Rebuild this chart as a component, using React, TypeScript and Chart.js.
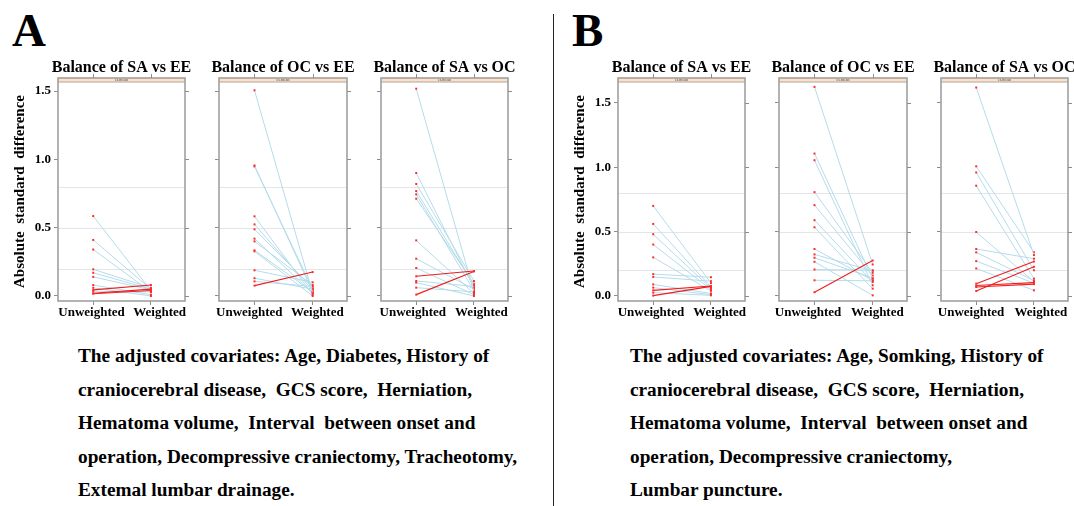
import React, { useEffect, useRef } from "react";
import { Chart, registerables } from "chart.js";

Chart.register(...registerables);

const SERIF = "'Liberation Serif', 'Times New Roman', serif";

// Axis content shared by every panel
const categories = ["Unweighted", "Weighted"];
const yTickValues = [0, 0.5, 1, 1.5];
const refLines = [0.2, 0.5, 0.8];
const yAxisTitle = "Absolute  standard  difference";
const stripLabel = "es.mean";

// Group A: absolute standardized differences per covariate (before / after weighting)
const aSaEeUnweighted = [0.585, 0.41, 0.34, 0.195, 0.17, 0.14, 0.08, 0.06, 0.045, 0.035, 0.02, 0.017];
const aSaEeWeighted = [0.04, 0.05, 0.03, 0.06, 0.05, 0.045, 0.01, 0.0, 0.08, 0.03, 0.05, 0.04];

const aOcEeUnweighted = [1.505, 0.955, 0.948, 0.583, 0.524, 0.488, 0.42, 0.4, 0.334, 0.327, 0.188, 0.13, 0.107, 0.076];
const aOcEeWeighted = [0.02, 0.03, 0.05, 0.01, 0.04, 0.06, 0.02, 0.08, 0.03, 0.0, 0.1, 0.05, 0.07, 0.175];

const aSaOcUnweighted = [1.517, 0.9, 0.82, 0.768, 0.744, 0.712, 0.407, 0.273, 0.205, 0.144, 0.11, 0.098, 0.061, 0.01];
const aSaOcWeighted = [0.03, 0.06, 0.11, 0.08, 0.04, 0.09, 0.02, 0.05, 0.01, 0.183, 0.07, 0.0, 0.03, 0.18];

// Group B
const bSaEeUnweighted = [0.7, 0.56, 0.48, 0.4, 0.3, 0.17, 0.148, 0.09, 0.065, 0.044, 0.026, 0.003];
const bSaEeWeighted = [0.1, 0.07, 0.06, 0.05, 0.04, 0.146, 0.115, 0.02, 0.01, 0.078, 0.005, 0.075];

const bOcEeUnweighted = [1.625, 1.107, 1.055, 0.807, 0.706, 0.589, 0.534, 0.365, 0.323, 0.297, 0.266, 0.206, 0.122, 0.029];
const bOcEeWeighted = [0.245, 0.135, 0.083, 0.18, 0.159, 0.109, 0.057, 0.122, 0.195, 0.14, 0.005, 0.2, 0.118, 0.276];

const bSaOcUnweighted = [1.62, 1.008, 0.96, 0.857, 0.497, 0.365, 0.339, 0.271, 0.214, 0.096, 0.081, 0.07, 0.039];
const bSaOcWeighted = [0.318, 0.339, 0.2, 0.135, 0.11, 0.29, 0.12, 0.1, 0.044, 0.268, 0.104, 0.092, 0.227];

const captionA = [
  "The adjusted covariates: Age, Diabetes, History of",
  "craniocerebral disease,  GCS score,  Herniation,",
  "Hematoma volume,  Interval  between onset and",
  "operation, Decompressive craniectomy, Tracheotomy,",
  "Extemal lumbar drainage.",
];
const captionB = [
  "The adjusted covariates: Age, Somking, History of",
  "craniocerebral disease,  GCS score,  Herniation,",
  "Hematoma volume,  Interval  between onset and",
  "operation, Decompressive craniectomy,",
  "Lumbar puncture.",
];

type PanelSpec = {
  title: string;
  unweighted: number[];
  weighted: number[];
  left: number;
  right: number;
  yMin: number;
  yMax: number;
  first: boolean;
  labelAt: number[];
};

const yRangeA = { yMin: -0.0366, yMax: 1.566 };
const yRangeB = { yMin: -0.0389, yMax: 1.663 };

const panels: PanelSpec[] = [
  { title: "Balance of SA vs EE", unweighted: aSaEeUnweighted, weighted: aSaEeWeighted, left: 58, right: 185, ...yRangeA, first: true, labelAt: [0.97, 2.15] },
  { title: "Balance of OC vs EE", unweighted: aOcEeUnweighted, weighted: aOcEeWeighted, left: 219, right: 347, ...yRangeA, first: false, labelAt: [0.91, 2.08] },
  { title: "Balance of SA vs OC", unweighted: aSaOcUnweighted, weighted: aSaOcWeighted, left: 381, right: 508, ...yRangeA, first: false, labelAt: [0.94, 2.13] },
  { title: "Balance of SA vs EE", unweighted: bSaEeUnweighted, weighted: bSaEeWeighted, left: 618, right: 745, ...yRangeB, first: true, labelAt: [0.96, 2.15] },
  { title: "Balance of OC vs EE", unweighted: bOcEeUnweighted, weighted: bOcEeWeighted, left: 779, right: 907, ...yRangeB, first: false, labelAt: [0.89, 2.08] },
  { title: "Balance of SA vs OC", unweighted: bSaOcUnweighted, weighted: bSaOcWeighted, left: 941, right: 1068, ...yRangeB, first: false, labelAt: [0.91, 2.12] },
];

const PANEL_TOP = 50;
const PANEL_H = 280;
const STRIP_H = 4;
const PAD_SIDE = 20;

// Reference lines under the data; title, frame, strip and outer ticks on top
const panelDecor = {
  id: "panelDecor",
  beforeDatasetsDraw(chart: any) {
    const { ctx, chartArea: a, scales } = chart;
    ctx.save();
    ctx.strokeStyle = "#e2e6e8";
    ctx.lineWidth = 1;
    refLines.forEach((v) => {
      const py = Math.round(scales.y.getPixelForValue(v)) + 0.5;
      ctx.beginPath();
      ctx.moveTo(a.left, py);
      ctx.lineTo(a.right, py);
      ctx.stroke();
    });
    ctx.restore();
  },
  afterDraw(chart: any, _args: any, opts: any) {
    const { ctx, chartArea: a, scales } = chart;
    const top = a.top - STRIP_H;
    ctx.save();
    // panel title
    ctx.fillStyle = "#000";
    ctx.font = `bold 16px ${SERIF}`;
    ctx.textAlign = "center";
    ctx.textBaseline = "middle";
    ctx.fillText(opts.title, (a.left + a.right) / 2, top - 10.4);
    // strip
    ctx.fillStyle = "#ffe0c2";
    ctx.fillRect(a.left, top, a.right - a.left, STRIP_H);
    ctx.strokeStyle = "#a8a8a8";
    ctx.lineWidth = 1;
    ctx.beginPath();
    ctx.moveTo(a.left, a.top);
    ctx.lineTo(a.right, a.top);
    ctx.stroke();
    ctx.fillStyle = "#444";
    ctx.font = `4px ${SERIF}`;
    ctx.fillText(stripLabel, (a.left + a.right) / 2, top + STRIP_H / 2);
    // frame
    ctx.strokeStyle = "#a0a0a0";
    ctx.lineWidth = 1.6;
    ctx.strokeRect(a.left, top, a.right - a.left, a.bottom - top);
    // top and right ticks
    ctx.strokeStyle = "#8c8c8c";
    ctx.lineWidth = 1;
    [1, 2].forEach((v) => {
      const px = Math.round(scales.x.getPixelForValue(v)) + 0.5;
      ctx.beginPath();
      ctx.moveTo(px, top - 4);
      ctx.lineTo(px, top);
      ctx.stroke();
    });
    yTickValues.forEach((v) => {
      const py = Math.round(scales.y.getPixelForValue(v)) + 0.5;
      ctx.beginPath();
      ctx.moveTo(a.right, py);
      ctx.lineTo(a.right + 4, py);
      ctx.stroke();
    });
    ctx.restore();
  },
};

function BalancePanel({ spec }: { spec: PanelSpec }) {
  const ref = useRef<HTMLCanvasElement | null>(null);
  const yW = spec.first ? 50 : 6;
  const padLeft = spec.first ? 0 : 14;
  const canvasLeft = spec.left - yW - padLeft;
  const width = spec.right - spec.left + yW + padLeft + PAD_SIDE;

  useEffect(() => {
    if (!ref.current) return;
    const pairs = spec.unweighted.map((u, i) => ({ u, w: spec.weighted[i] }));
    const up = pairs.filter((p) => p.w > p.u);
    const down = pairs.filter((p) => p.w <= p.u);
    const mk = (p: { u: number; w: number }, color: string, lw: number) => ({
      data: [
        { x: 1, y: p.u },
        { x: 2, y: p.w },
      ],
      borderColor: color,
      borderWidth: lw,
      pointRadius: 1.4,
      pointStyle: "rect",
      pointBackgroundColor: "#ff2a2a",
      pointBorderColor: "#ff2a2a",
      pointBorderWidth: 0,
      showLine: true,
    });
    // first datasets are painted last, so the red (increasing) lines stay on top
    const datasets = [...up.map((p) => mk(p, "#f01e1e", 1.1)), ...down.map((p) => mk(p, "#b4dcea", 1))];

    const chart = new Chart(ref.current, {
      type: "line",
      data: { datasets } as any,
      options: {
        animation: false,
        responsive: false,
        maintainAspectRatio: false,
        layout: { padding: { top: 32, left: padLeft, right: PAD_SIDE, bottom: 10 } },
        plugins: {
          legend: { display: false },
          tooltip: { enabled: false },
          title: { display: false },
          panelDecor: { title: spec.title },
        },
        scales: {
          x: {
            type: "linear",
            min: 0.39,
            max: 2.59,
            weight: 0,
            afterBuildTicks: (s: any) => {
              s.ticks = [{ value: 1 }, { value: 2 }];
            },
            afterFit: (s: any) => {
              s.height = 4;
            },
            ticks: { display: false },
            grid: { display: true, drawOnChartArea: false, drawTicks: true, tickLength: 4, color: "#8c8c8c" },
            border: { display: false },
          },
          xLabels: {
            type: "linear",
            position: "bottom",
            axis: "x",
            min: 0.39,
            max: 2.59,
            weight: 1,
            afterBuildTicks: (s: any) => {
              s.ticks = spec.labelAt.map((v) => ({ value: v }));
            },
            afterFit: (s: any) => {
              s.height = 15;
            },
            ticks: {
              callback: (_v: any, i: number) => categories[i],
              color: "#000",
              font: { family: SERIF, size: 13, weight: "bold" },
              padding: 0,
              maxRotation: 0,
              autoSkip: false,
            },
            grid: { display: false, drawTicks: false },
            border: { display: false },
          },
          y: {
            type: "linear",
            min: spec.yMin,
            max: spec.yMax,
            afterBuildTicks: (s: any) => {
              s.ticks = yTickValues.map((v) => ({ value: v }));
            },
            afterFit: (s: any) => {
              s.width = yW;
            },
            ticks: {
              display: spec.first,
              callback: (v: any) => Number(v).toFixed(1),
              color: "#000",
              font: { family: SERIF, size: 13, weight: "bold" },
              padding: 3,
            },
            grid: { display: true, drawOnChartArea: false, drawTicks: true, tickLength: 4, color: "#8c8c8c" },
            border: { display: false },
            title: {
              display: spec.first,
              text: yAxisTitle,
              color: "#000",
              font: { family: SERIF, size: 15, weight: "bold" },
              padding: { top: 3, bottom: 0 },
            },
          },
        },
      } as any,
      plugins: [panelDecor],
    });
    return () => chart.destroy();
  }, [spec]);

  return (
    <canvas
      ref={ref}
      width={width}
      height={PANEL_H}
      style={{ position: "absolute", left: canvasLeft, top: PANEL_TOP, width, height: PANEL_H }}
    />
  );
}

function Caption({ lines, left }: { lines: string[]; left: number }) {
  return (
    <div
      style={{
        position: "absolute",
        left,
        top: 339,
        fontFamily: SERIF,
        fontWeight: "bold",
        fontSize: 19.3,
        lineHeight: "33.5px",
        whiteSpace: "pre",
        color: "#000",
      }}
    >
      {lines.map((l, i) => (
        <div key={i}>{l}</div>
      ))}
    </div>
  );
}

const letterStyle: React.CSSProperties = {
  position: "absolute",
  top: 7,
  fontFamily: SERIF,
  fontWeight: "bold",
  fontSize: 47,
  lineHeight: "47px",
  color: "#000",
};

export default function App() {
  return (
    <div
      style={{
        position: "absolute",
        left: 0,
        top: 0,
        width: 1074,
        height: 506,
        overflow: "hidden",
        background: "#fff",
      }}
    >
      <div style={{ ...letterStyle, left: 12 }}>A</div>
      <div style={{ ...letterStyle, left: 572 }}>B</div>
      <div style={{ position: "absolute", left: 553, top: 14, width: 1, height: 492, background: "#222" }} />
      {panels.map((p, i) => (
        <BalancePanel key={i} spec={p} />
      ))}
      <Caption lines={captionA} left={78} />
      <Caption lines={captionB} left={630} />
    </div>
  );
}
